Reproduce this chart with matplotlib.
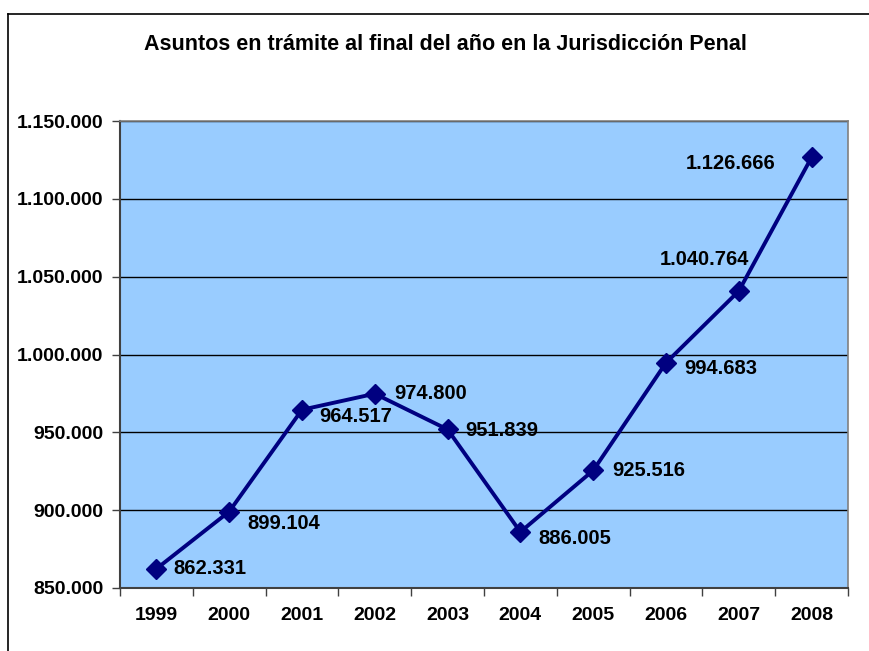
import matplotlib.pyplot as plt
from matplotlib.lines import Line2D
from matplotlib.ticker import FixedLocator

plt.rcParams['font.family'] = ['Liberation Sans', 'DejaVu Sans']
plt.rcParams['font.weight'] = 'bold'

years = ['1999', '2000', '2001', '2002', '2003', '2004', '2005', '2006', '2007', '2008']
asuntos = [862331, 899104, 964517, 974800, 951839, 886005, 925516, 994683, 1040764, 1126666]
y_ticks = [850000, 900000, 950000, 1000000, 1050000, 1100000, 1150000]

# label placement (pixel offsets, alignment)
label_offsets = [(17, 0), (18, -12), (17, -7), (19, 0), (18, -1),
                 (18, -7), (19, 0), (18, -6), (10, 32), (-36, -6)]
label_align = ['left'] * 8 + ['right', 'right']


def fmt(v):
    return f"{v:,}".replace(",", ".")


fig = plt.figure(figsize=(8.69, 6.51), dpi=100)
ax = fig.add_axes([120 / 869, 1 - 588 / 651, 728 / 869, 467 / 651])
ax.set_facecolor('#99CCFF')

x = list(range(len(years)))
ax.plot(x, asuntos, color='#000080', linewidth=2.8, marker='D',
        markersize=10, markerfacecolor='#000080', markeredgecolor='#000080')

for xi, v, (dx, dy), ha in zip(x, asuntos, label_offsets, label_align):
    ax.annotate(fmt(v), (xi, v), xytext=(dx, dy), textcoords='offset pixels',
                ha=ha, va='center', fontsize=14.5, fontweight='bold')

ax.set_xlim(-0.5, len(years) - 0.5)
ax.set_ylim(y_ticks[0], y_ticks[-1])
ax.set_yticks(y_ticks)
ax.set_yticklabels([fmt(t) for t in y_ticks], fontsize=14, fontweight='bold')
ax.yaxis.grid(True, color='black', linewidth=1)
ax.set_axisbelow(True)
ax.tick_params(axis='y', length=6, width=1, color='#404040', pad=6)

ax.set_xticks(x)
ax.set_xticklabels(years, fontsize=14, fontweight='bold')
ax.xaxis.set_minor_locator(FixedLocator([i - 0.5 for i in range(len(years) + 1)]))
ax.tick_params(axis='x', which='major', length=0, pad=14)
ax.tick_params(axis='x', which='minor', length=6, width=1, color='#404040')

for side in ['top', 'right']:
    ax.spines[side].set_color('#808080')
    ax.spines[side].set_linewidth(1.2)
for side in ['left', 'bottom']:
    ax.spines[side].set_color('#404040')
    ax.spines[side].set_linewidth(1.5)

fig.text(445 / 869, 1 - 45 / 651,
         'Asuntos en trámite al final del año en la Jurisdicción Penal',
         ha='center', va='center', fontsize=15.5, fontweight='bold')

# outer chart frame (only left and top edges visible in the reference)
fig.add_artist(Line2D([8 / 869, 8 / 869], [0, 1 - 14 / 651], color='black', linewidth=1.2))
fig.add_artist(Line2D([8 / 869, 1], [1 - 14 / 651, 1 - 14 / 651], color='black', linewidth=1.2))

fig.savefig('out.png', dpi=100)
